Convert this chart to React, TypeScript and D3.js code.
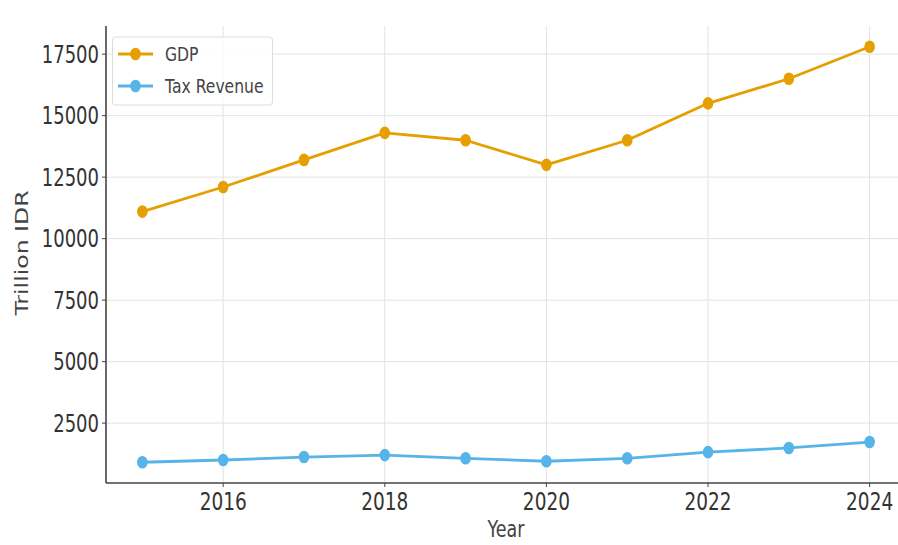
import React from "react";
import * as d3 from "d3";

const years = [2015, 2016, 2017, 2018, 2019, 2020, 2021, 2022, 2023, 2024];
const gdp = [11100, 12100, 13200, 14300, 14000, 13000, 14000, 15500, 16500, 17800];
const taxRevenue = [910, 1000, 1120, 1200, 1070, 950, 1070, 1320, 1490, 1730];
const yTicks = [2500, 5000, 7500, 10000, 12500, 15000, 17500];
const xTicks = [2016, 2018, 2020, 2022, 2024];
const seriesNames = ["GDP", "Tax Revenue"];
const seriesColors = ["#E69F00", "#56B4E9"];

const W = 898;
const H = 545;
const left = 106;
const right = 906;
const top = 26;
const bottom = 483;
const FONT = "'DejaVu Sans', sans-serif";
const SY = 1.35; // vertical stretch of the reference image

export default function App() {
  const allVals = [...gdp, ...taxRevenue];
  const mn = d3.min(allVals)!;
  const mx = d3.max(allVals)!;
  const pad = (mx - mn) * 0.05;
  const x = d3.scaleLinear().domain([2014.55, 2024.45]).range([left, right]);
  const y = d3.scaleLinear().domain([mn - pad, mx + pad]).range([bottom, top]);
  const series = [gdp, taxRevenue];
  const line = d3
    .line<number>()
    .x((_, i) => x(years[i]))
    .y((d) => y(d));

  return (
    <svg width={W} height={H} style={{ position: "absolute", left: 0, top: 0, background: "#fff" }}>
      <rect x={0} y={0} width={W} height={H} fill="#fff" />
      {/* grid */}
      {xTicks.map((t) => (
        <line key={"gx" + t} x1={x(t)} x2={x(t)} y1={top} y2={bottom} stroke="#e3e3e3" strokeWidth={1} />
      ))}
      {yTicks.map((t) => (
        <line key={"gy" + t} x1={left} x2={right} y1={y(t)} y2={y(t)} stroke="#e3e3e3" strokeWidth={1} />
      ))}
      {/* series */}
      {series.map((s, k) => (
        <g key={"s" + k}>
          <path d={line(s)!} fill="none" stroke={seriesColors[k]} strokeWidth={2.8} strokeLinejoin="round" />
          {s.map((v, i) => (
            <ellipse key={i} cx={x(years[i])} cy={y(v)} rx={5.3} ry={6.3} fill={seriesColors[k]} />
          ))}
        </g>
      ))}
      {/* spines */}
      <line x1={left} x2={left} y1={top} y2={bottom} stroke="#444" strokeWidth={1.6} />
      <line x1={left} x2={right} y1={bottom} y2={bottom} stroke="#444" strokeWidth={1.6} />
      {/* y ticks */}
      {yTicks.map((t) => (
        <g key={"yt" + t}>
          <line x1={left - 4} x2={left} y1={y(t)} y2={y(t)} stroke="#444" strokeWidth={1} />
          <g transform={`translate(${left - 7}, ${y(t)}) scale(1, ${SY})`}>
            <text x={0} y={0} dy="0.36em" textAnchor="end" fontFamily={FONT} fontSize={18} fill="#333">
              {t}
            </text>
          </g>
        </g>
      ))}
      {/* x ticks */}
      {xTicks.map((t) => (
        <g key={"xt" + t}>
          <line x1={x(t)} x2={x(t)} y1={bottom} y2={bottom + 4} stroke="#444" strokeWidth={1} />
          <g transform={`translate(${x(t)}, ${510}) scale(1, ${SY})`}>
            <text x={0} y={0} textAnchor="middle" fontFamily={FONT} fontSize={18.5} fill="#333">
              {t}
            </text>
          </g>
        </g>
      ))}
      {/* axis labels */}
      <g transform={`translate(${(left + right) / 2}, 537) scale(1, 1.3)`}>
        <text x={0} y={0} textAnchor="middle" fontFamily={FONT} fontSize={17.5} fill="#444">
          Year
        </text>
      </g>
      <g transform={`translate(28, 253) scale(1, 1.31) rotate(-90)`}>
        <text x={0} y={0} textAnchor="middle" fontFamily={FONT} fontSize={18} fill="#444">
          Trillion IDR
        </text>
      </g>
      {/* legend */}
      <rect x={112.5} y={37} width={160} height={68} fill="#fff" fillOpacity={0.85} stroke="#ddd" strokeWidth={1} rx={3} />
      {seriesNames.map((n, k) => (
        <g key={"lg" + k} transform={`translate(118, ${54 + k * 32})`}>
          <line x1={0} x2={35} y1={0} y2={0} stroke={seriesColors[k]} strokeWidth={2.8} />
          <ellipse cx={17.5} cy={0} rx={5.3} ry={6.3} fill={seriesColors[k]} />
          <g transform={`translate(47, 0) scale(1, 1.3)`}>
            <text x={0} y={0} dy="0.36em" fontFamily={FONT} fontSize={15.6} fill="#444">
              {n}
            </text>
          </g>
        </g>
      ))}
    </svg>
  );
}
